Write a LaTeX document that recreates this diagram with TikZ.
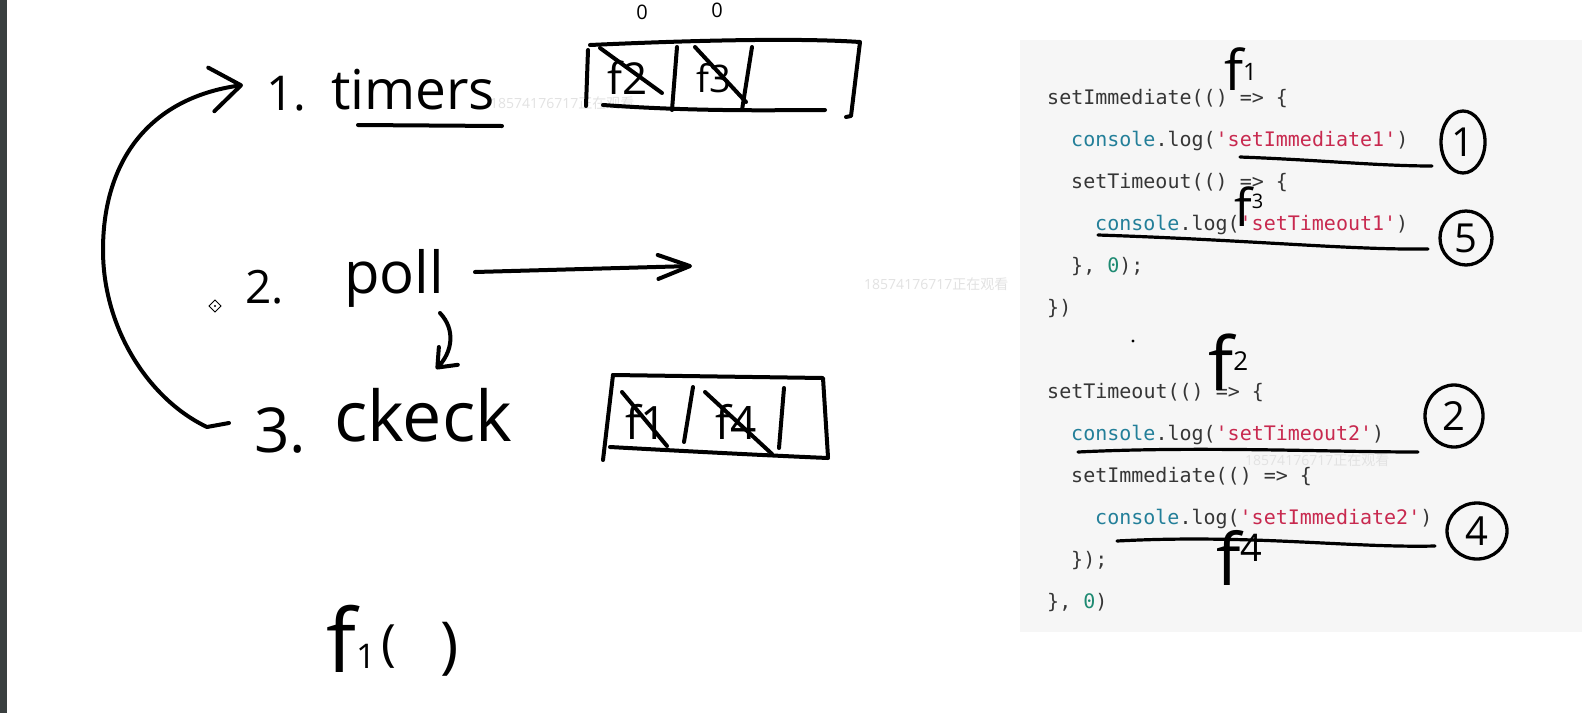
\documentclass[tikz,border=0pt]{standalone}
\usepackage{fontspec}
\setmonofont{DejaVu Sans Mono}
\newfontfamily\hwf{Open Sans}
\newfontfamily\cjkf{Noto Sans CJK SC}
\usetikzlibrary{arrows.meta,shapes.geometric}
\definecolor{ctext}{HTML}{363636}
\definecolor{cfun}{HTML}{237F99}
\definecolor{cstr}{HTML}{C8294F}
\definecolor{cnum}{HTML}{1E8A72}
\definecolor{panel}{HTML}{F6F6F6}
\definecolor{strip}{HTML}{3A3F3F}
\definecolor{wmark}{HTML}{E2E2E2}
\begin{document}
\begin{tikzpicture}[x=1pt,y=-1pt,
  ink/.style={line width=4pt, line cap=round, line join=round, black},
  thinink/.style={line width=3.2pt, line cap=round, line join=round, black},
  hw/.style={font=\hwf, inner sep=0, text=black},
  code/.style={font=\ttfamily\fontsize{20}{24}\selectfont, text=ctext, anchor=base west, inner sep=0},
  circnum/.style={draw, ellipse, line width=3.3pt, inner sep=0, font=\hwf\fontsize{40}{40}\selectfont},
  wm/.style={font=\hwf\fontsize{14}{14}\selectfont, text=wmark, anchor=base west, inner sep=0}
]
\useasboundingbox (0,0) rectangle (1582,713);
\fill[white] (0,0) rectangle (1582,713);
\fill[strip] (0,0) rectangle (7,713);
\fill[panel] (1020,40) rectangle (1582,632);

% watermarks
\node[wm] (wm1) at (490,108) {18574176717{\cjkf 正在观看}};
\node[wm] (wm2) at (864,289) {18574176717{\cjkf 正在观看}};
\node[wm] (wm3) at (1245,465) {18574176717{\cjkf 正在观看}};

% ---------- left: phases ----------
\node[hw, anchor=base west, font=\hwf\fontsize{48}{48}\selectfont] (p1) at (266,110) {1.};
\node[hw, anchor=base west, font=\hwf\fontsize{55}{55}\selectfont] (timers) at (331,109) {timers};
\draw[ink] (358,125) -- (502,126);

\node[hw, anchor=base west, font=\hwf\fontsize{46}{46}\selectfont] (p2) at (245,303) {2.};
\node[hw, anchor=base west, font=\hwf\fontsize{58}{58}\selectfont] (poll) at (344,293) {poll};

\node[hw, anchor=base west, font=\hwf\fontsize{62}{62}\selectfont] (p3) at (254,452) {3.};
\node[hw, anchor=base west, font=\hwf\fontsize{70}{70}\selectfont] (check) at (334,441) {ckeck};

% loop arrow from 3 back to 1
\coordinate (loopS) at (229,423);
\coordinate (loopE) at (243,85);
\draw[ink, -{Straight Barb[length=30pt, width=44pt, round]}]
  (loopS) -- (207,427) .. controls (150,400) and (103,330) .. (103,250)
  .. controls (103,160) and (150,98) .. (loopE);

% poll -> right arrow
\coordinate (pollR) at (692,266);
\draw[ink, -{Straight Barb[length=32pt, width=24pt, round]}] (475,272) -- (pollR);

% poll -> check small arrow
\coordinate (pcS) at (440,313);
\coordinate (pcE) at (436,369);
\draw[ink, -{Straight Barb[length=16pt, width=26pt, round]}]
  (pcS) .. controls (456,330) and (452,352) .. (pcE);

% cursor icon
\draw[line width=0.8pt] (215,300) -- (221,306) -- (215,312) -- (209,306) -- cycle;
\fill (215,306) circle (1.2);

% ---------- timers queue box ----------
\node[hw, font=\hwf\fontsize{20}{20}\selectfont] (z1) at (642,12) {0};
\node[hw, font=\hwf\fontsize{20}{20}\selectfont] (z2) at (717,10) {0};
\draw[ink] (590,45) .. controls (700,40) and (800,38) .. (860,42) -- (851,116) -- (846,117);
\draw[ink] (588,50) -- (586,106);
\draw[ink] (603,105) .. controls (700,112) and (780,110) .. (825,110);
\draw[ink] (677,47) -- (672,110);
\draw[ink] (752,47) -- (742,110);
\node[hw, font=\hwf\fontsize{44}{44}\selectfont] (tq1) at (628,78) {f2};
\node[hw, font=\hwf\fontsize{38}{38}\selectfont] (tq2) at (714,78) {f3};
\draw[ink] (600,48) -- (662,93);
\draw[ink] (695,47) -- (746,102);

% ---------- check queue box ----------
\draw[ink] (613,375) -- (823,378) -- (828,457);
\draw[ink] (613,375) -- (603,460);
\draw[ink] (610,447) .. controls (700,452) and (780,456) .. (828,458);
\draw[ink] (693,387) -- (684,442);
\draw[ink] (784,388) -- (779,448);
\node[hw, font=\hwf\fontsize{46}{46}\selectfont] (cq1) at (646,422) {f1};
\node[hw, font=\hwf\fontsize{46}{46}\selectfont] (cq2) at (736,422) {f4};
\draw[ink] (622,392) -- (667,446);
\draw[ink] (705,392) -- (772,454);

% f1( )
\node[hw, anchor=base west] (call) at (326,672)
  {{\fontsize{88}{88}\selectfont f}{\fontsize{34}{34}\selectfont\raisebox{4pt}{1}}\hspace{6pt}{\fontsize{50}{50}\selectfont\raisebox{12pt}{(}\hspace{44pt}\raisebox{6pt}{\fontsize{62}{62}\selectfont )}}};

% ---------- code panel ----------
\node[code] (l1) at (1047,104) {setImmediate(() => \{};
\node[code] (l2) at (1071,146) {\textcolor{cfun}{console}.log(\textcolor{cstr}{'setImmediate1'})};
\node[code] (l3) at (1071,188) {setTimeout(() => \{};
\node[code] (l4) at (1095,230) {\textcolor{cfun}{console}.log(\textcolor{cstr}{'setTimeout1'})};
\node[code] (l5) at (1071,272) {\}, \textcolor{cnum}{0});};
\node[code] (l6) at (1047,314) {\})};

\node[code] (l7) at (1047,398) {setTimeout(() => \{};
\node[code] (l8) at (1071,440) {\textcolor{cfun}{console}.log(\textcolor{cstr}{'setTimeout2'})};
\node[code] (l9) at (1071,482) {setImmediate(() => \{};
\node[code] (l10) at (1095,524) {\textcolor{cfun}{console}.log(\textcolor{cstr}{'setImmediate2'})};
\node[code] (l11) at (1071,566) {\});};
\node[code] (l12) at (1047,608) {\}, \textcolor{cnum}{0})};

% annotations on code
\node[hw, anchor=base west] (fa1) at (1224,90)
  {{\fontsize{56}{56}\selectfont f}{\fontsize{24}{24}\selectfont\raisebox{10pt}{1}}};
\node[hw, anchor=base west] (fa3) at (1234,226)
  {{\fontsize{52}{52}\selectfont f}{\fontsize{20}{20}\selectfont\raisebox{18pt}{3}}};
\node[hw, anchor=base west] (fa2) at (1208,390)
  {{\fontsize{74}{74}\selectfont f}{\fontsize{26}{26}\selectfont\raisebox{20pt}{2}}};
\node[hw, anchor=base west] (fa4) at (1216,585)
  {{\fontsize{72}{72}\selectfont f}{\fontsize{38}{38}\selectfont\raisebox{24pt}{4}}};

\draw[thinink] (1240,157) .. controls (1320,160) and (1380,166) .. (1432,166);
\draw[thinink] (1098,235) .. controls (1250,240) and (1350,250) .. (1428,249);
\draw[thinink] (1078,452) .. controls (1200,446) and (1330,452) .. (1418,452);
\draw[thinink] (1117,541) .. controls (1250,534) and (1350,548) .. (1435,546);

\node[circnum, minimum width=44pt, minimum height=62pt] (o1) at (1463,142) {1};
\node[circnum, minimum width=52pt, minimum height=54pt] (o5) at (1466,238) {5};
\node[circnum, minimum width=58pt, minimum height=62pt] (o2) at (1454,416) {2};
\node[circnum, minimum width=60pt, minimum height=56pt] (o4) at (1477,531) {4};

\fill (1133,341) circle (1.6);
\end{tikzpicture}
\end{document}
